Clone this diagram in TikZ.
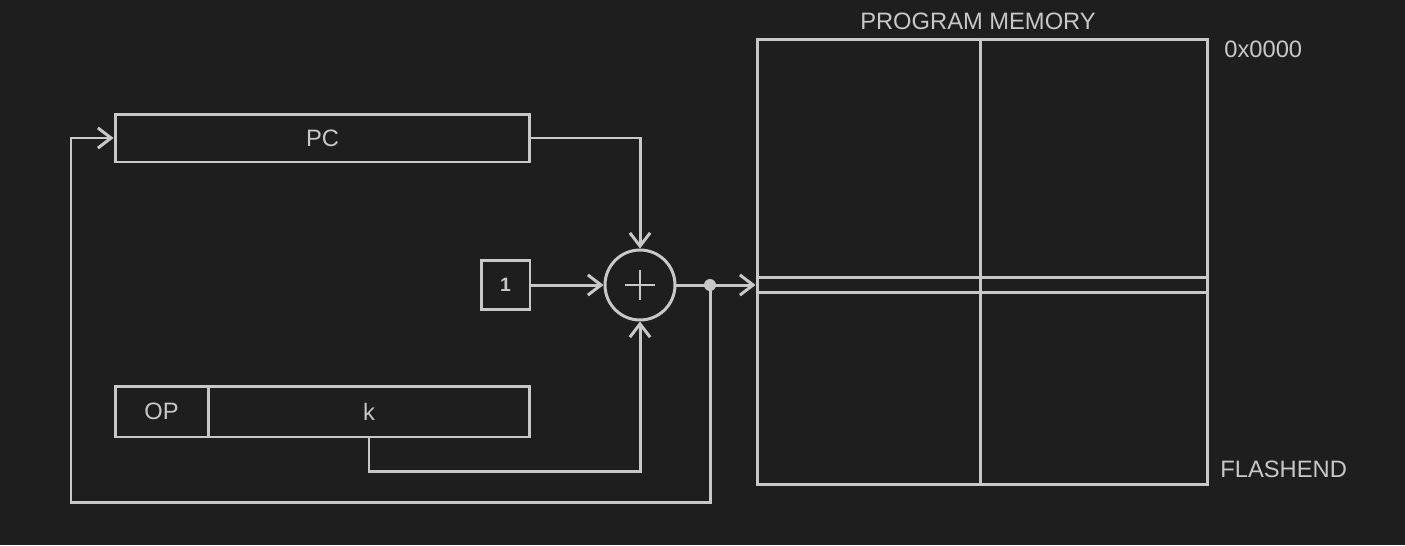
\documentclass[tikz,border=0pt]{standalone}
\usepackage{fontspec}
\setmainfont{Liberation Sans}
\usetikzlibrary{arrows.meta,calc}
\definecolor{bg}{RGB}{30,30,30}
\definecolor{ink}{RGB}{200,200,200}
\tikzset{
	conn/.style={ink, line width=1.7pt, -{Straight Barb[length=7.5pt,width=11.5pt]}},
	reg/.style={draw=ink, line width=1.7pt, inner sep=0pt, text=ink, font=\fontsize{13.5}{16}\selectfont},
	lbl/.style={text=ink, inner sep=0pt, font=\fontsize{13.5}{16}\selectfont}
}

\begin{document}
\begin{tikzpicture}[x=0.02cm, y=-0.02cm]

\fill[bg] (0,0) rectangle (1405,545);

\node[reg, minimum width=8.3cm, minimum height=0.96cm] (pc) at (322.5,138) {PC};
\node[reg, minimum size=0.98cm, font=\fontsize{11}{13}\selectfont\bfseries] (one) at (505.5,285) {1};
\node[reg, circle, minimum size=1.4cm] (sum) at (640,285) {};
\draw[ink, line width=1.1pt] ($(sum)+(-15,0)$) -- ($(sum)+(15,0)$) ($(sum)+(0,-15)$) -- ($(sum)+(0,15)$);

\node[reg, minimum width=1.86cm, minimum height=1.02cm] (op) at (161.5,411.5) {OP};
\node[reg, minimum width=6.44cm, minimum height=1.02cm] (k) at (369,411.5) {k};

\node[reg, minimum width=9.02cm, minimum height=8.92cm] (mem) at (982.5,262) {};
\draw[ink, line width=1.7pt] ($(mem.north)+(-2.5,0)$) -- ($(mem.south)+(-2.5,0)$);
\foreach \d in {15,30}{
	\draw[ink, line width=1.7pt] ($(mem.west)+(0,\d)$) -- ($(mem.east)+(0,\d)$);
}
\node[lbl] (title) at (978,21) {PROGRAM MEMORY};
\node[lbl, anchor=west] (start) at (1224,49) {0x0000};
\node[lbl, anchor=west] (end) at (1220,469) {FLASHEND};

\coordinate (kbend) at (640,471);
\coordinate (tap) at (710,285);
\coordinate (fb) at (71,502);
\draw[conn] (pc.east) -| (sum.north);
\draw[conn] (one) -- (sum);
\draw[conn] (k.south) |- (kbend) -- (sum.south);
\draw[conn] (sum.east) -- (sum.east -| mem.west);
\draw[conn] (tap) |- (fb) |- (pc.west);
\fill[ink] (tap) circle [radius=0.12cm];

\end{tikzpicture}
\end{document}
